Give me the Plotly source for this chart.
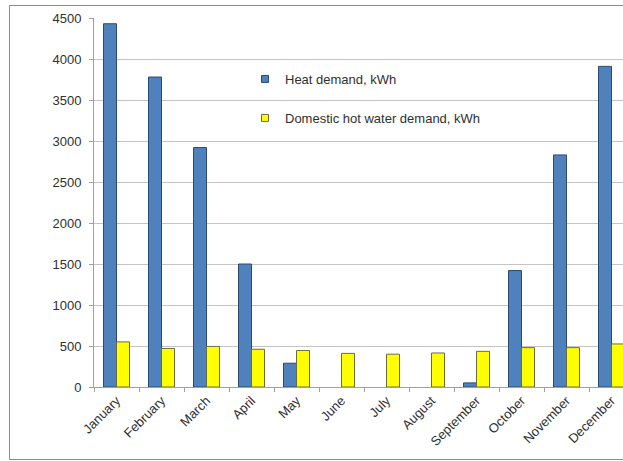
import plotly.graph_objects as go

months = ["January", "February", "March", "April", "May", "June", "July",
          "August", "September", "October", "November", "December"]
heat_kwh = [4430, 3780, 2920, 1500, 290, 0, 0, 0, 50, 1420, 2830, 3910]
dhw_kwh = [550, 470, 495, 460, 445, 410, 400, 415, 435, 480, 480, 525]
y_ticks = [0, 500, 1000, 1500, 2000, 2500, 3000, 3500, 4000, 4500]

W, H = 623, 461
ML, MR, MT, MB = 94, 0, 18, 74
CAT_W = 45.0
plot_w = W - ML - MR
plot_h = H - MT - MB

BLUE = "#4f81bd"
BLUE_LINE = "#2c4a70"
YELLOW = "#ffff00"
YELLOW_LINE = "#6b6b40"
FONT = "Liberation Sans, Arial, sans-serif"
TXT = "#303030"

def nz(vals):
    # zero-height bars are not drawn in the original chart
    return [v if v != 0 else None for v in vals]

fig = go.Figure()
fig.add_trace(go.Bar(x=months, y=nz(heat_kwh), name="Heat demand, kWh",
                     marker=dict(color=BLUE, line=dict(color=BLUE_LINE, width=1)),
                     showlegend=False))
fig.add_trace(go.Bar(x=months, y=nz(dhw_kwh), name="Domestic hot water demand, kWh",
                     marker=dict(color=YELLOW, line=dict(color=YELLOW_LINE, width=1)),
                     showlegend=False))
# legend entries with small square markers
fig.add_trace(go.Scatter(x=[None], y=[None], mode="markers", name="Heat demand, kWh",
                         marker=dict(symbol="square", size=7, color=BLUE,
                                     line=dict(color=BLUE_LINE, width=1)),
                         legend="legend"))
fig.add_trace(go.Scatter(x=[None], y=[None], mode="markers",
                         name="Domestic hot water demand, kWh",
                         marker=dict(symbol="square", size=7, color=YELLOW,
                                     line=dict(color=YELLOW_LINE, width=1)),
                         legend="legend2"))

def px_x(x):
    return (x - ML) / plot_w

def px_y(y):
    return (H - MB - y) / plot_h

fig.add_shape(type="rect", xref="paper", yref="paper",
              x0=px_x(9.5), x1=1.2, y0=px_y(459.5), y1=px_y(5.5),
              line=dict(color="#8c8c8c", width=1), fillcolor="rgba(0,0,0,0)",
              layer="below")

legend_common = dict(bgcolor="rgba(0,0,0,0)", borderwidth=0,
                     font=dict(family=FONT, size=13, color=TXT),
                     xanchor="left", yanchor="middle", itemwidth=30,
                     itemclick=False)
fig.update_layout(
    width=W, height=H,
    margin=dict(l=ML, r=MR, t=MT, b=MB, pad=0),
    paper_bgcolor="white", plot_bgcolor="white",
    barmode="group", bargap=19 / 45, bargroupgap=0,
    showlegend=True,
    legend=dict(x=px_x(245), y=px_y(79), **legend_common),
    legend2=dict(x=px_x(245), y=px_y(118), **legend_common),
    font=dict(family=FONT, size=13, color=TXT),
    xaxis=dict(type="category", range=[-0.5, -0.5 + plot_w / CAT_W],
               tickangle=-45, tickson="boundaries", ticks="outside", ticklen=4,
               tickcolor="#a0a0a0", showline=True, linecolor="#a0a0a0",
               showgrid=False, tickfont=dict(family=FONT, size=13, color=TXT)),
    yaxis=dict(range=[0, 4500], tickvals=y_ticks, ticks="outside", ticklen=4,
               tickcolor="#a0a0a0", showline=True, linecolor="#a0a0a0",
               showgrid=True, gridcolor="#c4c4c4", gridwidth=1, zeroline=False,
               ticklabelstandoff=5,
               tickfont=dict(family=FONT, size=13, color=TXT)),
)

fig.write_html("out.html")
